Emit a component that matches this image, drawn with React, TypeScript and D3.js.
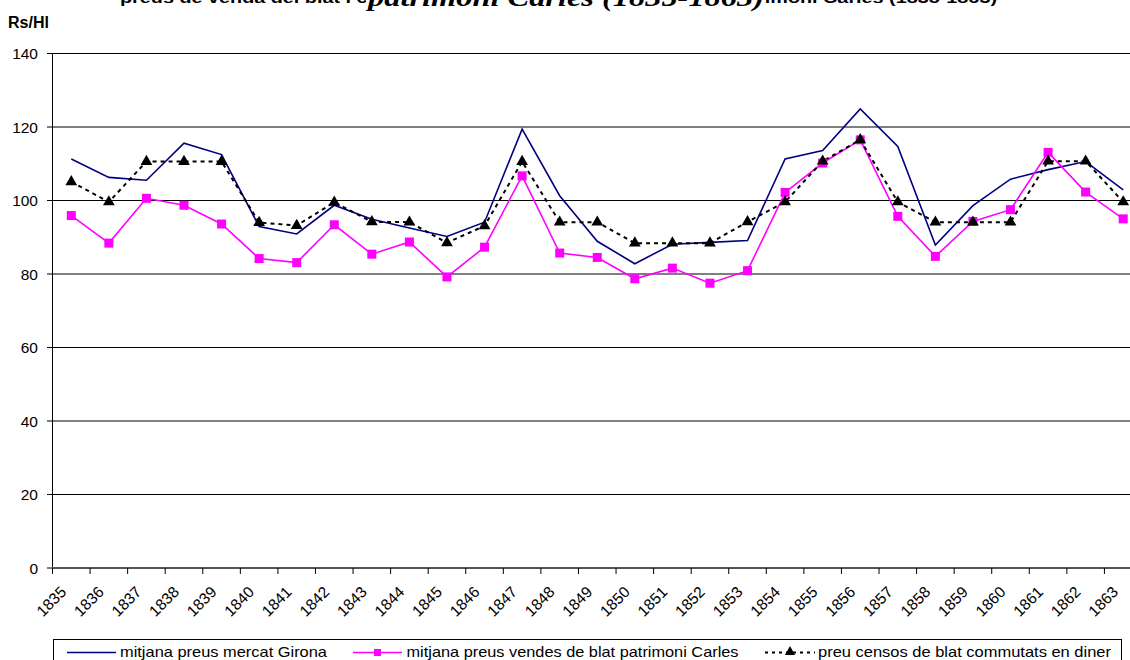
import React from "react";
import * as d3 from "d3";

const years = [
  "1835","1836","1837","1838","1839","1840","1841","1842","1843","1844",
  "1845","1846","1847","1848","1849","1850","1851","1852","1853","1854",
  "1855","1856","1857","1858","1859","1860","1861","1862","1863",
];
const girona = [
  111.3, 106.3, 105.5, 115.6, 112.5, 92.9, 90.9, 98.7, 94.9, 92.5,
  90.2, 94.1, 119.4, 101.3, 88.9, 82.8, 88.1, 88.6, 89.1, 111.3,
  113.6, 124.9, 114.7, 87.9, 98.6, 105.8, 108.4, 110.6, 102.9,
];
const carles = [
  95.9, 88.4, 100.6, 98.7, 93.6, 84.2, 83.1, 93.4, 85.4, 88.7,
  79.2, 87.3, 106.7, 85.7, 84.5, 78.7, 81.6, 77.5, 80.9, 102.2,
  110.2, 116.5, 95.7, 84.8, 94.3, 97.5, 113.1, 102.3, 95.0,
];
const censos = [
  105.1, 99.6, 110.6, 110.6, 110.6, 94.0, 93.2, 99.5, 94.2, 94.1,
  88.5, 93.1, 110.6, 94.1, 94.1, 88.4, 88.4, 88.4, 94.2, 99.6,
  110.7, 116.5, 99.6, 94.1, 94.1, 94.1, 110.7, 110.7, 99.6,
];
const yTicks = [0, 20, 40, 60, 80, 100, 120, 140];
const seriesNames = [
  "mitjana preus mercat Girona",
  "mitjana preus vendes de blat patrimoni Carles",
  "preu censos de blat commutats en diner",
];
const titleSmall =
  "preus de venda del blat i censos de blat commutats en diner del patrimoni Carles (1835-1863)";
const titleBig = "patrimoni Carles (1835-1863)";
const yLabel = "Rs/Hl";

const W = 1130;
const H = 660;
const font = "'Liberation Sans', Arial, sans-serif";

export default function App() {
  const x = d3.scaleBand<string>().domain(years).range([52.5, 1142]).padding(0);
  const y = d3.scaleLinear().domain([0, 140]).range([568, 53.5]);
  const cx = (d: string) => (x(d) as number) + x.bandwidth() / 2;

  const line = d3
    .line<number>()
    .x((_, i) => cx(years[i]))
    .y((v) => y(v));

  const tri = d3.symbol().type(d3.symbolTriangle).size(60)();
  const triSmall = d3.symbol().type(d3.symbolTriangle).size(45)();

  const boundaries = years.map((d) => x(d) as number).concat([x.range()[1]]);

  return (
    <svg
      width={W}
      height={H}
      style={{ position: "absolute", left: 0, top: 0, background: "#fff" }}
      fontFamily={font}
    >
      <rect x={0} y={0} width={W} height={H} fill="#fff" />
      {/* title */}
      <text x={120} y={3} fontSize={14} fontWeight="bold" textLength={877} lengthAdjust="spacingAndGlyphs">
        {titleSmall}
      </text>
      <rect x={366} y={0} width={398} height={14} fill="#fff" />
      <text
        x={368}
        y={6}
        fontSize={25}
        fontWeight="bold"
        fontStyle="italic"
        fontFamily="'Liberation Serif', 'Times New Roman', serif"
        textLength={396}
        lengthAdjust="spacingAndGlyphs"
      >
        {titleBig}
      </text>
      <text x={8} y={28} fontSize={16} fontWeight="bold">
        {yLabel}
      </text>

      {/* grid */}
      {yTicks.map((t) => (
        <g key={t}>
          {t > 0 && (
            <line x1={52.5} x2={W} y1={y(t)} y2={y(t)} stroke="#000" strokeWidth={1} />
          )}
          <line x1={47} x2={52.5} y1={y(t)} y2={y(t)} stroke="#000" strokeWidth={1} />
          <text x={38} y={y(t)} dy="0.36em" fontSize={15.5} textAnchor="end">
            {t}
          </text>
        </g>
      ))}
      {/* axes */}
      <line x1={52.5} x2={52.5} y1={y(140)} y2={y(0)} stroke="#000" strokeWidth={1} />
      <line x1={52} x2={W} y1={y(0)} y2={y(0)} stroke="#555" strokeWidth={2} />
      {boundaries.map((b, i) => (
        <line key={i} x1={b} x2={b} y1={y(0)} y2={y(0) + 6} stroke="#000" strokeWidth={1} />
      ))}
      {years.map((d) => (
        <text
          key={d}
          transform={`translate(${cx(d) - 4},${593}) rotate(-45)`}
          fontSize={15.5}
          textAnchor="end"
        >
          {d}
        </text>
      ))}

      {/* series */}
      <path d={line(girona) || ""} fill="none" stroke="#000080" strokeWidth={1.6} />
      <path d={line(carles) || ""} fill="none" stroke="#FF00FF" strokeWidth={1.6} />
      <path
        d={line(censos) || ""}
        fill="none"
        stroke="#000"
        strokeWidth={2}
        strokeDasharray="4,4"
      />
      {carles.map((v, i) => (
        <rect key={i} x={cx(years[i]) - 4.5} y={y(v) - 4.5} width={9} height={9} fill="#FF00FF" />
      ))}
      {censos.map((v, i) => (
        <path key={i} d={tri || ""} transform={`translate(${cx(years[i])},${y(v)})`} fill="#000" />
      ))}

      {/* legend */}
      <rect x={53.5} y={639.5} width={1068} height={40} fill="#fff" stroke="#000" strokeWidth={1} />
      <line x1={67} x2={116} y1={652.5} y2={652.5} stroke="#000080" strokeWidth={1.6} />
      <text x={120} y={657} fontSize={15} textLength={207} lengthAdjust="spacingAndGlyphs">
        {seriesNames[0]}
      </text>
      <line x1={353} x2={402} y1={652.5} y2={652.5} stroke="#FF00FF" strokeWidth={1.6} />
      <rect x={374} y={649} width={7} height={7} fill="#FF00FF" />
      <text x={406.5} y={657} fontSize={15} textLength={332} lengthAdjust="spacingAndGlyphs">
        {seriesNames[1]}
      </text>
      <line
        x1={765}
        x2={815}
        y1={652.5}
        y2={652.5}
        stroke="#000"
        strokeWidth={2}
        strokeDasharray="3,4"
      />
      <path d={triSmall || ""} transform="translate(790,652)" fill="#000" />
      <text x={818} y={657} fontSize={15} textLength={293} lengthAdjust="spacingAndGlyphs">
        {seriesNames[2]}
      </text>
    </svg>
  );
}
